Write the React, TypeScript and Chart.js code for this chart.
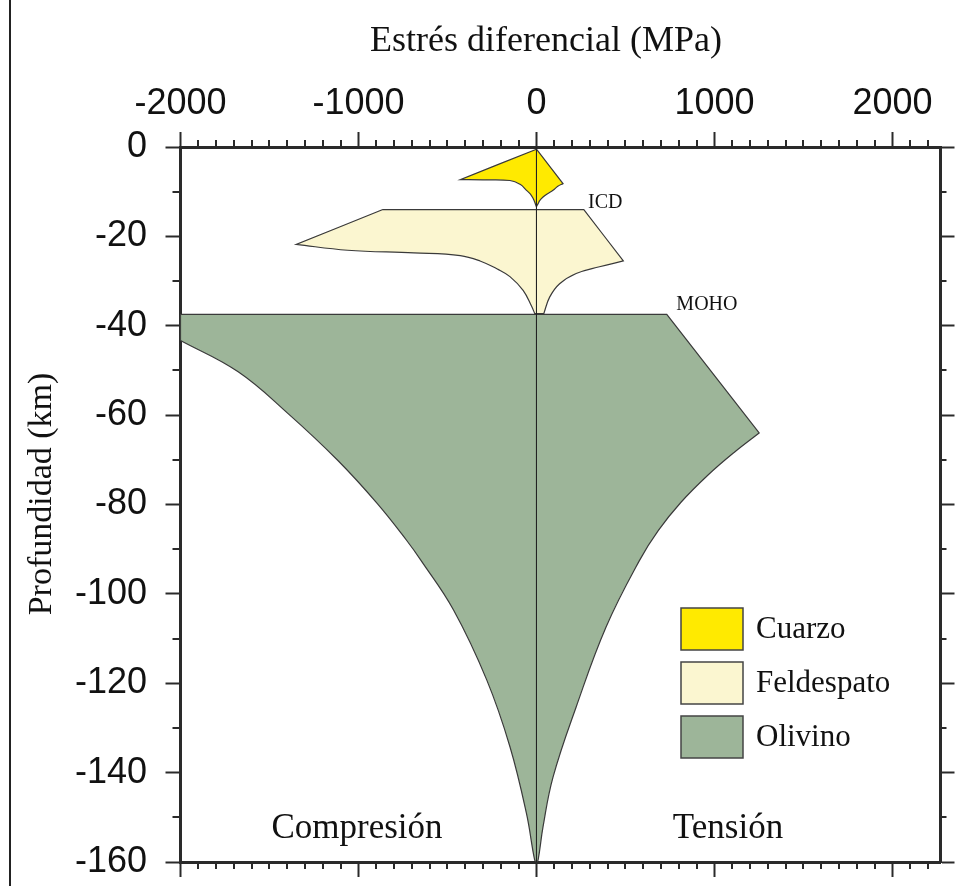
import React, { useEffect, useRef } from 'react';
import { Chart, registerables } from 'chart.js';

Chart.register(...registerables);

// ---------- axis definition ----------
const X_MIN = -2000;
const X_MAX = 2270;
const Y_MIN = -160;
const Y_MAX = 0;
const X_MINOR = 100;
const Y_MINOR = 10;
const xTickValues = [-2000, -1000, 0, 1000, 2000];
const yTickValues = [-160, -140, -120, -100, -80, -60, -40, -20, 0];

const xTitle = 'Estrés diferencial (MPa)';
const yTitle = 'Profundidad (km)';
const leftLabel = 'Compresión';
const rightLabel = 'Tensión';

// ---------- data: polygon outlines [stress MPa, depth km] ----------
const cuarzo: [number, number][] = [
  [0, -0.5], [149, -8.2], [120, -8.8], [93, -9.7], [60, -10.5], [37, -11.2], [18, -12.0],
  [9, -12.7], [3, -13.1], [0, -13.4], [-4, -13.0], [-10, -12.3], [-19, -11.5], [-35, -10.5],
  [-56, -9.7], [-90, -8.4], [-149, -7.5], [-300, -7.35], [-428, -7.3], [0, -0.5],
];
const cuarzoCorners = [1, 9, 18];

const feldespato: [number, number][] = [
  [-863, -14.0], [266, -14.0], [488, -25.5], [354, -26.8], [223, -28.3], [130, -30.6],
  [74, -33.6], [41, -37.3], [-9.5, -37.3], [-28, -35.6], [-75, -32.1], [-149, -29.0],
  [-220, -27.3], [-317, -25.5], [-428, -24.3], [-689, -23.7], [-1061, -23.1], [-1350, -21.8],
  [-863, -14.0],
];
const feldespatoCorners = [1, 2, 7, 8, 17];

const olivino: [number, number][] = [
  [-2000, -37.45], [732, -37.45], [1251, -64.0], [1112, -68.3], [964, -73.4], [812, -79.5],
  [685, -85.8], [579, -92.5], [391, -107.4], [223, -125.3], [93, -141], [37, -152.1],
  [9, -159.6], [0, -160], [-10, -159.6], [-56, -149.2], [-149, -134.2], [-279, -119.3],
  [-466, -103.6], [-649, -92.5], [-730, -88], [-894, -79.8], [-1117, -70.1], [-1397, -59.6],
  [-1676, -50.3], [-2000, -43.3], [-2000, -37.45],
];
const olivinoCorners = [1, 2, 13, 25];

const ejeCero: [number, number][] = [[0, 0], [0, -160]];

const seriesNames = ['Cuarzo', 'Feldespato', 'Olivino'];
const seriesColors = ['#FFEA00', '#FBF6D0', '#9DB599'];

// ICD and MOHO annotations [stress, depth]
const icdPos: [number, number] = [290, -12.4];
const mohoPos: [number, number] = [786, -35.2];

// corner points are repeated so the smoothed outline keeps them sharp
const toPts = (arr: [number, number][], corners: number[] = []) => {
  const out: { x: number; y: number }[] = [];
  arr.forEach(([x, y], i) => {
    out.push({ x, y });
    if (corners.includes(i)) out.push({ x, y });
  });
  return out;
};

export default function App() {
  const ref = useRef<HTMLCanvasElement>(null);

  useEffect(() => {
    const canvas = ref.current;
    if (!canvas) return;
    const serif = '"Liberation Serif", "Times New Roman", serif';
    const sans = '"Liberation Sans", Arial, sans-serif';
    const ink = '#111111';
    const axisColor = '#2a2a2a';
    const outline = '#3a3a3a';

    const decorations = {
      id: 'decorations',
      afterDraw(chart: any) {
        const { ctx, chartArea: a, scales } = chart;
        const sx = scales.x;
        const sy = scales.y;
        ctx.save();
        // minor ticks
        ctx.strokeStyle = axisColor;
        ctx.lineWidth = 2;
        ctx.beginPath();
        for (let v = X_MIN; v <= X_MAX; v += X_MINOR) {
          if (v % 1000 === 0) continue;
          const px = Math.round(sx.getPixelForValue(v));
          ctx.moveTo(px, a.top - 7);
          ctx.lineTo(px, a.top);
          ctx.moveTo(px, a.bottom);
          ctx.lineTo(px, a.bottom + 7);
        }
        for (let v = Y_MIN; v <= Y_MAX; v += Y_MINOR) {
          if (v % 20 === 0) continue;
          const py = Math.round(sy.getPixelForValue(v));
          ctx.moveTo(a.left - 8, py);
          ctx.lineTo(a.left, py);
          ctx.moveTo(a.right, py);
          ctx.lineTo(a.right + 6, py);
        }
        ctx.stroke();

        // left frame of the figure
        ctx.fillStyle = '#222';
        ctx.fillRect(9, 0, 2, chart.height);

        // titles
        ctx.fillStyle = ink;
        ctx.textAlign = 'center';
        ctx.textBaseline = 'middle';
        ctx.font = `36px ${serif}`;
        ctx.fillText(xTitle, 546, 42);
        ctx.font = `34px ${serif}`;
        ctx.save();
        ctx.translate(42, 494);
        ctx.rotate(-Math.PI / 2);
        ctx.fillText(yTitle, 0, 0);
        ctx.restore();

        // regime labels
        ctx.font = `35px ${serif}`;
        ctx.fillText(leftLabel, 357, 829);
        ctx.fillText(rightLabel, 728, 829);

        // annotations
        ctx.font = `20px ${serif}`;
        ctx.textAlign = 'left';
        ctx.fillText('ICD', sx.getPixelForValue(icdPos[0]), sy.getPixelForValue(icdPos[1]));
        ctx.fillText('MOHO', sx.getPixelForValue(mohoPos[0]), sy.getPixelForValue(mohoPos[1]));

        // legend
        const bx = 681;
        const bw = 62;
        const bh = 42;
        const tops = [608, 662, 716];
        ctx.font = `31px ${serif}`;
        ctx.textBaseline = 'middle';
        seriesNames.forEach((name, i) => {
          ctx.fillStyle = seriesColors[i];
          ctx.fillRect(bx, tops[i], bw, bh);
          ctx.strokeStyle = '#444';
          ctx.lineWidth = 1.5;
          ctx.strokeRect(bx, tops[i], bw, bh);
          ctx.fillStyle = ink;
          ctx.fillText(name, 756, tops[i] + bh / 2 + 1);
        });
        ctx.restore();
      },
    };

    const polygon = (label: string, pts: [number, number][], corners: number[], color: string, order: number) => ({
      label,
      data: toPts(pts, corners),
      showLine: true,
      fill: 'shape',
      backgroundColor: color,
      borderColor: outline,
      borderWidth: 1.2,
      pointRadius: 0,
      tension: 0.4,
      xAxisID: 'x',
      yAxisID: 'y',
      order,
    });

    const xTicks = (s: any) => {
      s.ticks = xTickValues.map((v) => ({ value: v }));
    };
    const yTicks = (s: any) => {
      s.ticks = yTickValues.map((v) => ({ value: v }));
    };
    const gridOpts = (len: number) => ({
      display: true,
      drawOnChartArea: false,
      drawTicks: true,
      tickLength: len,
      tickWidth: 2,
      tickColor: axisColor,
    });
    const borderOpts = { display: true, color: axisColor, width: 3 };
    const noPad = (s: any) => {
      s.paddingTop = 0;
      s.paddingBottom = 0;
      s.paddingLeft = 0;
      s.paddingRight = 0;
    };

    const chart = new Chart(canvas, {
      type: 'scatter',
      data: {
        datasets: [
          {
            label: 'eje',
            data: toPts(ejeCero),
            showLine: true,
            fill: false,
            borderColor: '#222',
            borderWidth: 1,
            pointRadius: 0,
            xAxisID: 'x',
            yAxisID: 'y',
            order: 0,
          } as any,
          polygon(seriesNames[0], cuarzo, cuarzoCorners, seriesColors[0], 1),
          polygon(seriesNames[1], feldespato, feldespatoCorners, seriesColors[1], 2),
          polygon(seriesNames[2], olivino, olivinoCorners, seriesColors[2], 3),
        ],
      },
      options: {
        responsive: false,
        animation: false,
        devicePixelRatio: 1,
        events: [],
        layout: { padding: 0 },
        plugins: {
          legend: { display: false },
          tooltip: { enabled: false },
        },
        scales: {
          x: {
            type: 'linear',
            axis: 'x',
            position: 'top',
            min: X_MIN,
            max: X_MAX,
            z: 1,
            afterBuildTicks: xTicks,
            afterFit: (s: any) => {
              s.height = 147;
              noPad(s);
            },
            ticks: {
              display: true,
              autoSkip: false,
              maxRotation: 0,
              padding: 6,
              color: ink,
              font: { family: sans, size: 36 },
              callback: (v: any) => String(v),
            },
            grid: gridOpts(15),
            border: borderOpts,
          },
          x2: {
            type: 'linear',
            axis: 'x',
            position: 'bottom',
            min: X_MIN,
            max: X_MAX,
            z: 1,
            afterBuildTicks: xTicks,
            afterFit: (s: any) => {
              s.height = 24;
              noPad(s);
            },
            ticks: { display: false },
            grid: gridOpts(15),
            border: borderOpts,
          },
          y: {
            type: 'linear',
            axis: 'y',
            position: 'left',
            min: Y_MIN,
            max: Y_MAX,
            z: 1,
            afterBuildTicks: yTicks,
            afterFit: (s: any) => {
              s.width = 180.5;
              noPad(s);
            },
            ticks: {
              display: true,
              autoSkip: false,
              padding: 18.5,
              color: ink,
              font: { family: sans, size: 36 },
              callback: (v: any) => String(v),
            },
            grid: gridOpts(15),
            border: borderOpts,
          },
          y2: {
            type: 'linear',
            axis: 'y',
            position: 'right',
            min: Y_MIN,
            max: Y_MAX,
            z: 1,
            afterBuildTicks: yTicks,
            afterFit: (s: any) => {
              s.width = 17.5;
              noPad(s);
            },
            ticks: { display: false },
            grid: gridOpts(14),
            border: borderOpts,
          },
        },
      } as any,
      plugins: [decorations],
    });

    return () => chart.destroy();
  }, []);

  return (
    <div style={{ position: 'fixed', left: 0, top: 0, width: 958, height: 886, background: '#ffffff' }}>
      <canvas ref={ref} width={958} height={886} style={{ display: 'block' }} />
    </div>
  );
}
